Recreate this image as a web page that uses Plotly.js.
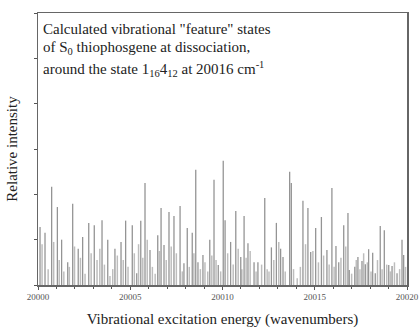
<!DOCTYPE html>
<html>
<head>
<meta charset="utf-8">
<script src="https://cdn.plot.ly/plotly-3.0.1.min.js"></script>
<style>html,body{margin:0;padding:0;background:#fff;}#chart{width:420px;height:329px;}</style>
</head>
<body>
<div id="chart"></div>
<script>
// Main (prominent) lines: energy (cm^-1) and relative intensity
const mainEnergy = [20000.11,20000.38,20000.74,20001.05,20001.28,20001.61,20001.88,20002.18,20002.42,20002.75,20003.05,20003.47,20003.78,20004.17,20004.50,20004.75,20005.11,20005.35,20005.57,20005.80,20006.07,20006.49,20006.67,20006.83,20007.10,20007.37,20007.70,20007.91,20008.09,20008.36,20008.55,20008.67,20008.94,20009.31,20009.54,20009.77,20010.04,20010.14,20010.44,20010.72,20010.99,20011.17,20011.38,20011.71,20011.92,20012.29,20012.65,20012.92,20013.15,20013.28,20013.64,20013.73,20014.36,20014.63,20014.78,20015.05,20015.36,20015.66,20015.93,20016.15,20016.30,20016.57,20016.80,20016.87,20017.17,20017.34,20017.56,20017.74,20017.92,20018.14,20018.28,20018.55,20018.77,20019.01,20019.19,20019.46,20019.73,20019.82];
const mainIntensity = [1.28,1.15,2.17,1.72,1.0,0.5,1.79,0.8,1.06,1.37,1.32,1.43,1.0,0.8,0.95,1.42,1.32,0.26,1.42,2.25,0.77,1.1,1.7,0.88,1.61,1.52,1.74,0.48,1.26,1.15,2.54,0.5,0.66,1.0,2.32,0.44,2.74,1.43,0.95,1.63,0.62,1.52,0.92,0.5,0.5,1.92,0.83,1.37,0.8,0.62,2.5,2.25,1.86,1.7,0.73,1.26,1.5,0.77,2.14,0.86,0.5,1.32,1.59,0.33,0.4,0.62,0.53,0.46,0.79,0.71,0.26,1.3,1.21,0.44,0.42,0.26,1.0,0.66];
// Weaker background lines
const weakEnergy = [20000.22,20000.55,20000.85,20001.15,20001.40,20001.70,20001.98,20002.30,20002.55,20002.88,20003.20,20003.35,20003.60,20003.90,20004.05,20004.30,20004.62,20004.88,20005.22,20005.45,20005.68,20005.92,20006.20,20006.35,20006.58,20006.95,20007.22,20007.50,20007.82,20008.20,20008.45,20008.80,20009.05,20009.20,20009.42,20009.65,20009.90,20010.28,20010.58,20010.85,20011.05,20011.28,20011.50,20011.82,20012.12,20012.42,20012.52,20012.78,20013.05,20013.40,20013.85,20014.05,20014.22,20014.50,20014.90,20015.20,20015.48,20015.78,20016.05,20016.42,20016.68,20017.00,20017.25,20017.45,20017.65,20017.85,20018.05,20018.40,20018.65,20018.90,20019.10,20019.32,20019.60,20019.92];
const weakIntensity = [0.9,0.35,0.95,0.55,0.3,0.4,0.85,0.6,0.25,0.7,0.55,0.8,0.45,0.2,0.35,0.65,0.55,0.4,0.7,0.9,0.6,1.0,0.4,0.25,0.75,0.55,0.85,0.7,0.3,0.4,0.7,0.35,0.5,0.3,0.65,0.55,0.3,0.7,0.45,0.8,0.35,0.6,0.75,0.3,0.45,0.35,0.3,0.55,0.95,0.3,0.35,0.15,0.4,0.9,0.75,0.5,0.65,0.45,0.4,0.6,0.85,0.25,0.55,0.35,0.7,0.5,0.3,0.55,0.35,0.45,0.3,0.5,0.35,0.4];
const xTickVals = [20000,20005,20010,20015,20020];
const xTickText = ['20000','20005','20010','20015','20020'];

const serif = 'Liberation Serif, Times New Roman, serif';
const traces = [
  {type:'bar', x: weakEnergy, y: weakIntensity, width: 0.08, marker:{color:'#bdbdbd', line:{width:0}}, hoverinfo:'skip'},
  {type:'bar', x: mainEnergy, y: mainIntensity, width: 0.07, marker:{color:'#949494', line:{width:0}}, hoverinfo:'skip'}
];
const layout = {
  width: 420, height: 329,
  margin: {l:38, r:13, t:13, b:44},
  paper_bgcolor:'#fff', plot_bgcolor:'#fff',
  showlegend:false, barmode:'overlay',
  font:{family: serif, color:'#333'},
  xaxis: {
    range:[20000,20020], tickvals: xTickVals, ticktext: xTickText,
    ticks:'outside', ticklen:3, tickcolor:'#555', tickwidth:1,
    minor:{dtick:1, ticks:'outside', ticklen:2, tickcolor:'#555'},
    showline:true, linecolor:'#666', linewidth:1.5, mirror:true,
    showgrid:false, zeroline:false,
    tickfont:{family: serif, size:9, color:'#555'},
    title:{text:'Vibrational excitation energy (wavenumbers)', font:{family: serif, size:15, color:'#222'}, standoff:12}
  },
  yaxis: {
    range:[0,6], dtick:1, showticklabels:false,
    ticks:'outside', ticklen:3, tickcolor:'#555',
    showline:true, linecolor:'#666', linewidth:1.5, mirror:true,
    showgrid:false, zeroline:false,
    title:{text:'Relative intensity', font:{family: serif, size:15, color:'#222'}, standoff:12}
  },
  annotations: [
    {xref:'paper', yref:'paper', x:0.008, y:0.94, xanchor:'left', yanchor:'middle', showarrow:false,
     text:'Calculated vibrational "feature" states', font:{family: serif, size:15, color:'#222'}},
    {xref:'paper', yref:'paper', x:0.008, y:0.87, xanchor:'left', yanchor:'middle', showarrow:false,
     text:'of S<sub>0</sub> thiophosgene at dissociation,', font:{family: serif, size:15, color:'#222'}},
    {xref:'paper', yref:'paper', x:0.008, y:0.795, xanchor:'left', yanchor:'middle', showarrow:false,
     text:'around the state 1<sub>16</sub>4<sub>12</sub> at 20016 cm<sup>-1</sup>', font:{family: serif, size:15, color:'#222'}}
  ]
};
Plotly.newPlot('chart', traces, layout, {displayModeBar:false, staticPlot:true});
</script>
</body>
</html>
